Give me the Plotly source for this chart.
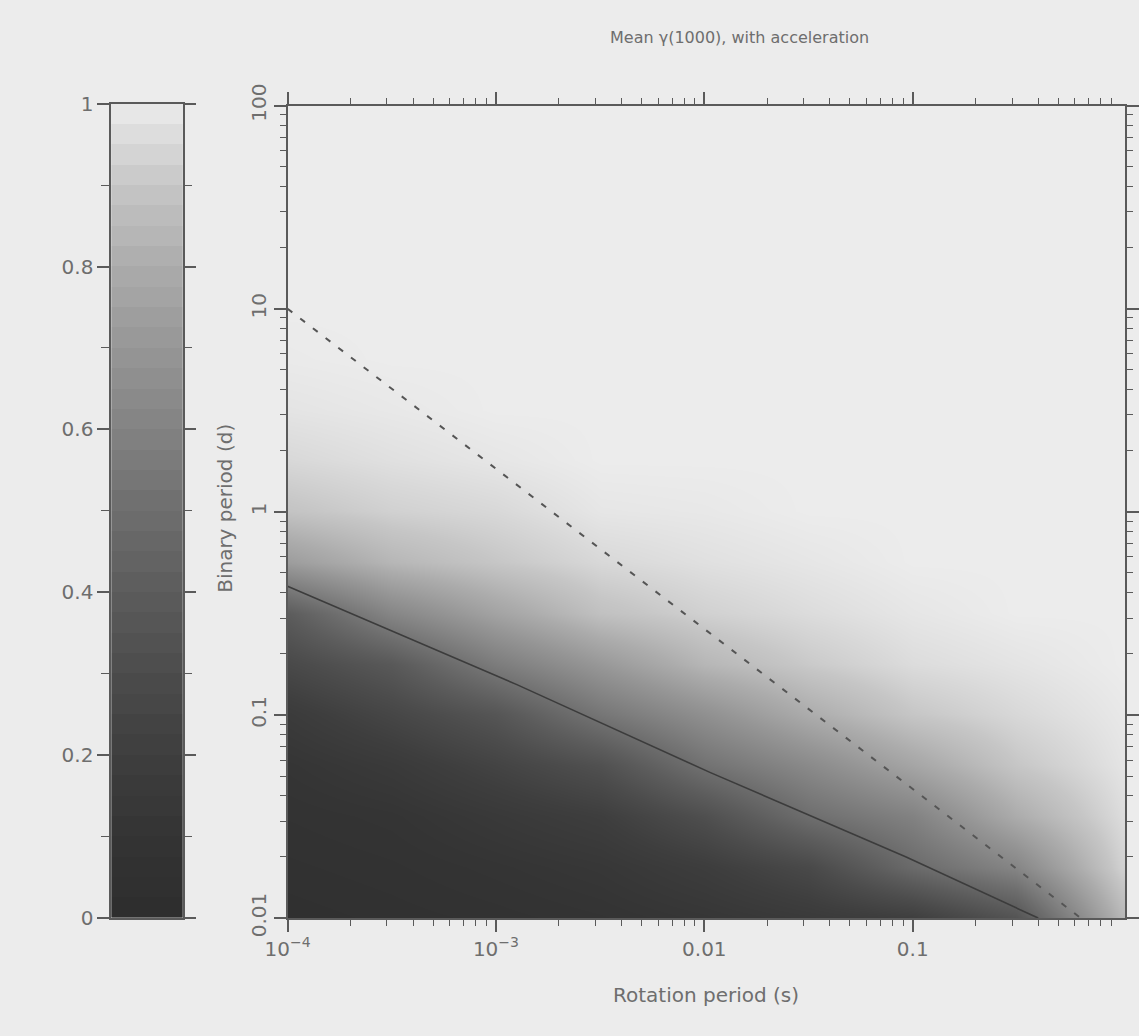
import numpy as np
import plotly.graph_objects as go

# ---------------- data ----------------
rotation_period_s = [1e-4, 3.16e-4, 1e-3, 3.16e-3, 0.01, 0.0316, 0.1, 0.316, 1.0]
binary_period_d = [0.01, 0.0178, 0.0316, 0.0562, 0.1, 0.178, 0.316, 0.562, 1.0,
                   1.78, 3.16, 5.62, 10.0, 17.8, 31.6, 56.2, 100.0]
# mean gamma(1000): one row per binary period, one column per rotation period
mean_gamma = [
    [0.04, 0.055, 0.07, 0.09, 0.12, 0.16, 0.20, 0.35, 0.84],
    [0.06, 0.075, 0.10, 0.13, 0.19, 0.28, 0.48, 0.62, 0.93],
    [0.08, 0.10, 0.15, 0.20, 0.32, 0.50, 0.60, 0.80, 0.96],
    [0.11, 0.16, 0.24, 0.33, 0.52, 0.64, 0.77, 0.90, 0.98],
    [0.17, 0.26, 0.36, 0.54, 0.67, 0.80, 0.90, 0.95, 0.99],
    [0.28, 0.38, 0.57, 0.71, 0.84, 0.91, 0.96, 0.98, 1.0],
    [0.40, 0.62, 0.76, 0.88, 0.93, 0.96, 0.985, 1.0, 1.0],
    [0.73, 0.84, 0.90, 0.95, 0.97, 0.985, 1.0, 1.0, 1.0],
    [0.89, 0.93, 0.95, 0.985, 0.99, 1.0, 1.0, 1.0, 1.0],
    [0.95, 0.97, 0.985, 1.0, 1.0, 1.0, 1.0, 1.0, 1.0],
    [0.98, 0.99, 1.0, 1.0, 1.0, 1.0, 1.0, 1.0, 1.0],
    [0.995, 1.0, 1.0, 1.0, 1.0, 1.0, 1.0, 1.0, 1.0],
    [1.0, 1.0, 1.0, 1.0, 1.0, 1.0, 1.0, 1.0, 1.0],
    [1.0, 1.0, 1.0, 1.0, 1.0, 1.0, 1.0, 1.0, 1.0],
    [1.0, 1.0, 1.0, 1.0, 1.0, 1.0, 1.0, 1.0, 1.0],
    [1.0, 1.0, 1.0, 1.0, 1.0, 1.0, 1.0, 1.0, 1.0],
    [1.0, 1.0, 1.0, 1.0, 1.0, 1.0, 1.0, 1.0, 1.0],
]
# solid contour line
solid_rot = [1e-4, 1.26e-3, 0.0107, 0.093, 0.40]
solid_bin = [0.43, 0.141, 0.052, 0.020, 0.01]
# dashed line
dashed_rot = [1e-4, 0.64]
dashed_bin = [10.0, 0.01]

x_tick_vals = [1e-4, 1e-3, 0.01, 0.1]
x_tick_text = ["10<sup>\u22124</sup>", "10<sup>\u22123</sup>", "0.01", "0.1"]
y_tick_vals = [0.01, 0.1, 1, 10, 100]
y_tick_text = ["0.01", "0.1", "1", "10", "100"]
cb_tick_vals = [0, 0.2, 0.4, 0.6, 0.8, 1.0]
cb_tick_text = ["0", "0.2", "0.4", "0.6", "0.8", "1"]
cb_levels = [round(0.0125 + 0.025 * i, 4) for i in range(40)]

title_text = "Mean \u03b3(1000), with acceleration"
x_title = "Rotation period (s)"
y_title = "Binary period (d)"

# ---------------- styling ----------------
W, H = 1139, 1036
BG = "#ececec"
INK = "#5a5a5a"
TXT = "#6e6e6e"
FONT = "DejaVu Sans"

gray_scale = [
    [0.0, "rgb(45,45,45)"],
    [0.1, "rgb(52,52,52)"],
    [0.2, "rgb(62,62,62)"],
    [0.3, "rgb(76,76,76)"],
    [0.4, "rgb(92,92,92)"],
    [0.5, "rgb(110,110,110)"],
    [0.6, "rgb(130,130,130)"],
    [0.7, "rgb(150,150,150)"],
    [0.8, "rgb(172,172,172)"],
    [0.9, "rgb(198,198,198)"],
    [0.95, "rgb(216,216,216)"],
    [1.0, "rgb(236,236,236)"],
]

lx = np.log10(rotation_period_s)
ly = np.log10(binary_period_d)

fig = go.Figure()
fig.add_trace(go.Heatmap(
    x=lx, y=ly, z=mean_gamma, zmin=0, zmax=1, colorscale=gray_scale,
    zsmooth="best", showscale=False, hoverinfo="skip", xaxis="x", yaxis="y"))
fig.add_trace(go.Scatter(
    x=np.log10(solid_rot), y=np.log10(solid_bin), mode="lines",
    line=dict(color="#3c3c3c", width=1.6), showlegend=False, xaxis="x", yaxis="y"))
fig.add_trace(go.Scatter(
    x=np.log10(dashed_rot), y=np.log10(dashed_bin), mode="lines",
    line=dict(color="#555555", width=2, dash="6px,10px"), showlegend=False,
    xaxis="x", yaxis="y"))
fig.add_trace(go.Heatmap(
    x=[0], y=cb_levels, z=[[v] for v in cb_levels], zmin=0, zmax=1,
    colorscale=gray_scale, showscale=False, hoverinfo="skip",
    xaxis="x2", yaxis="y2"))

def minor_log(lo, hi):
    vals = []
    for k in range(lo, hi):
        for m in range(2, 10):
            v = m * 10.0 ** k
            vals.append(float(np.log10(v)))
    return vals

axis_common = dict(showline=True, linecolor=INK, linewidth=1.5, mirror="allticks",
                   ticks="outside", tickcolor=INK, tickwidth=1.5, ticklen=12,
                   showgrid=False, zeroline=False,
                   tickfont=dict(family=FONT, size=20, color=TXT))

x_main_dom = [270 / W, 1125 / W]
y_main_dom = [(H - 933) / H, (H - 87) / H]

fig.update_layout(
    width=W, height=H, paper_bgcolor=BG, plot_bgcolor=BG,
    margin=dict(l=0, r=0, t=0, b=0), showlegend=False,
    xaxis=dict(domain=x_main_dom, range=[-4, 0.02], tickmode="array",
               tickvals=list(np.log10(x_tick_vals)), ticktext=x_tick_text,
               minor=dict(tickmode="array", tickvals=minor_log(-4, 0),
                          ticks="outside", ticklen=6, tickcolor=INK, tickwidth=1.2),
               anchor="y", **axis_common),
    yaxis=dict(domain=y_main_dom, range=[-2, 2], tickmode="array",
               tickvals=list(np.log10(y_tick_vals)), ticktext=y_tick_text,
               tickangle=-90,
               minor=dict(tickmode="array", tickvals=minor_log(-2, 2),
                          ticks="outside", ticklen=6, tickcolor=INK, tickwidth=1.2),
               anchor="x", **axis_common),
    xaxis2=dict(domain=[90 / W, 163 / W], range=[-0.5, 0.5], showticklabels=False,
                showline=True, linecolor=INK, linewidth=1.5, mirror=True,
                ticks="", showgrid=False, zeroline=False, anchor="y2"),
    yaxis2=dict(domain=[(H - 933) / H, (H - 85) / H], range=[0, 1],
                tickmode="array", tickvals=cb_tick_vals, ticktext=cb_tick_text,
                minor=dict(tickmode="array", tickvals=[0.1, 0.3, 0.5, 0.7, 0.9],
                           ticks="outside", ticklen=8, tickcolor=INK, tickwidth=1.2),
                anchor="x2", **axis_common),
    annotations=[
        dict(text=title_text, x=731 / W, y=1 - 16 / H, xref="paper", yref="paper",
             showarrow=False, xanchor="center", yanchor="middle",
             font=dict(family=FONT, size=16, color=TXT)),
        dict(text=x_title, x=697 / W, y=1 - 1013 / H, xref="paper", yref="paper",
             showarrow=False, xanchor="center", yanchor="middle",
             font=dict(family=FONT, size=20, color=TXT)),
        dict(text=y_title, x=206 / W, y=1 - 506 / H, xref="paper", yref="paper",
             showarrow=False, xanchor="center", yanchor="middle", textangle=-90,
             font=dict(family=FONT, size=20, color=TXT)),
    ],
)

fig.write_html("out.html")
